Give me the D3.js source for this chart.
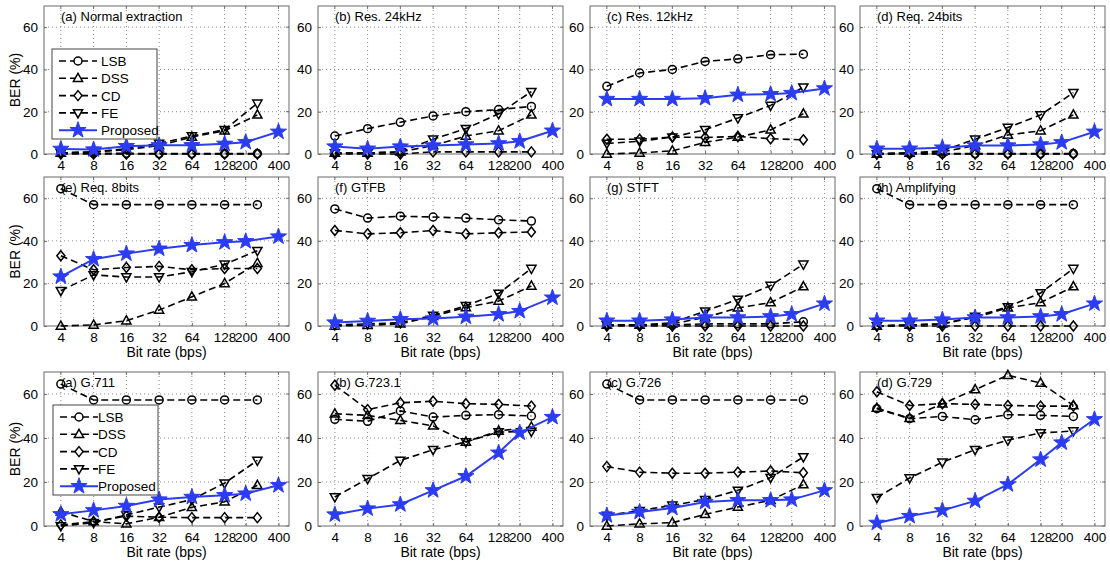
<!DOCTYPE html>
<html>
<head>
<meta charset="utf-8">
<script src="https://cdn.jsdelivr.net/npm/d3@7/dist/d3.min.js"></script>
<style>
  body { margin: 0; background: #fff; }
  text { font-family: "Liberation Sans", Arial, sans-serif; }
</style>
</head>
<body>
<div id="plot"></div>
<script>
// bit rates (bps) of the baseline methods and of the proposed one
const bitRates = [4, 8, 16, 32, 64, 128, 256];
const proposedRates = [4, 8, 16, 32, 64, 128, 200, 400];
const tickRates = [4, 8, 16, 32, 64, 128, 200, 400];
const berTicks = [0, 20, 40, 60];
const methods = ["LSB", "DSS", "CD", "FE", "Proposed"];

const titles = [
  "(a) Normal extraction", "(b) Res. 24kHz", "(c) Res. 12kHz", "(d) Req. 24bits",
  "(e) Req. 8bits", "(f) GTFB", "(g) STFT", "(h) Amplifying",
  "(a) G.711", "(b) G.723.1", "(c) G.726", "(d) G.729"
];

// BER (%) per panel, one row per panel
const lsb = [
  [0.5, 0.3, 0.3, 0.2, 0.2, 0.2, 0.2],
  [8.5, 12, 15, 18, 20, 21, 22.5],
  [32, 38.3, 40, 43.8, 45, 47, 47.2],
  [0.3, 0.2, 0.2, 0.2, 0.2, 0.2, 0.2],
  [64.5, 57, 57, 57, 57, 57, 57],
  [55, 50.7, 51.6, 51.2, 50.7, 49.9, 49.3],
  [0.5, 0.5, 0.5, 1, 1, 1, 2],
  [64.5, 57, 57, 57, 57, 57, 57],
  [64.5, 57.3, 57.3, 57.3, 57.3, 57.3, 57.3],
  [48.5, 47.6, 52.3, 49.5, 50.3, 50.6, 50],
  [64.5, 57.3, 57.3, 57.3, 57.3, 57.3, 57.3],
  [53.3, 48.8, 49.8, 48.3, 50.6, 50.3, 49.8]
];
const dss = [
  [0.5, 1, 2, 4, 8, 11, 18.5],
  [0.5, 0.5, 1, 4, 8.5, 11, 18.5],
  [0, 0.5, 1.5, 5.5, 8, 11.4, 19],
  [0, 0.5, 1, 4, 9, 11, 18.5],
  [0, 0.5, 2.5, 7.5, 13.7, 20, 29.5],
  [0, 0.3, 1, 4.6, 8.7, 11.7, 18.8],
  [0.5, 0.5, 1, 4, 8.5, 11, 18.5],
  [0, 0.5, 1, 4, 8.5, 11, 18.5],
  [6.5, 2, 1, 4, 8.5, 11, 18.5],
  [51, 50.3, 48, 45.5, 38.2, 43.2, 45],
  [0, 1, 1.5, 5.3, 8.6, 11.7, 18.8],
  [53.6, 49, 55.6, 62, 68.5, 65, 54.8]
];
const cd = [
  [0, 0, 0, 0, 0, 0, 0],
  [0, 0, 0, 1, 1, 1, 1],
  [7, 7, 8, 7.8, 8.3, 7.2, 6.7],
  [0, 0, 0, 0, 0, 0, 0],
  [33, 26.4, 27.5, 28, 26.4, 27, 27],
  [44.9, 43.3, 43.8, 44.9, 43.3, 43.8, 44.2],
  [0, 0, 0, 0, 0, 0, 0],
  [0, 0, 0, 0, 0, 0, 0],
  [0.5, 2, 4.5, 4, 3.8, 3.8, 3.8],
  [64, 52.9, 56, 56.7, 55.6, 55.3, 54.5],
  [27, 24.5, 24, 24, 24.5, 25, 24.2],
  [61, 54.8, 55.6, 55.3, 54.8, 54.5, 54.5]
];
const fe = [
  [0.5, 1, 2.5, 5, 8.5, 11.5, 24],
  [0.5, 0.5, 1, 7, 12, 19, 29.5],
  [5, 6, 8, 11.5, 17, 23, 31.6],
  [0, 0.5, 1.5, 7, 12.5, 18.5, 29],
  [16.6, 24, 23, 23, 25.5, 29, 35.4],
  [0.5, 1, 1.5, 5, 9.5, 15.3, 27],
  [0.5, 0.5, 1.5, 7, 12.5, 19, 29],
  [0, 0.5, 1, 4.5, 9, 15.5, 27],
  [0, 1.5, 5, 8.6, 12, 19.5, 29.8],
  [13.2, 21.5, 29.8, 34.7, 38.2, 42.7, 43],
  [4.8, 7, 9.4, 12, 16.2, 22, 31.4],
  [12.9, 21.8, 29, 34.7, 39, 42.3, 43.2]
];
const proposed = [
  [2.4, 2.1, 3.7, 4.1, 4.1, 4.8, 5.6, 10.5],
  [3.5, 2.5, 3.5, 4, 4.5, 5, 6, 11],
  [26, 26, 26, 26.4, 28, 28.3, 28.8, 31],
  [2.5, 2.5, 3, 4, 4, 4.5, 5.5, 10.5],
  [23.2, 31.4, 34, 36.3, 38, 39.3, 39.8, 42],
  [1.6, 2.4, 3.2, 3.5, 4.3, 5.5, 7, 13.3],
  [2.5, 2.5, 3, 4, 4, 4.5, 5.5, 10.5],
  [2.5, 2.5, 3, 4, 4, 4.5, 5.5, 10.5],
  [5.3, 7.1, 9.1, 12, 13.2, 14, 14.7, 18.5],
  [5.2, 7.9, 9.8, 16.2, 22.6, 33.3, 42.4, 49.5],
  [4.8, 6.4, 8.2, 10.9, 11.7, 11.7, 12, 16.2],
  [1.4, 4.5, 7.1, 11.4, 18.9, 30.2, 37.9, 48.5]
];

// layout
const colLeft = [44, 318, 590, 860];
const rowTop = [6, 177, 372];
const rowBottom = [154, 326, 526];
const panelW = 245;
const blue = "#2b3cf2";
const frame = "#6a6a6a";

const svg = d3.select("#plot").append("svg")
  .attr("width", 1110).attr("height", 561);

function markerPath(kind) {
  if (kind === "LSB") return d3.symbol(d3.symbolCircle, 50)();
  if (kind === "DSS") return "M0,-5L4.6,3.2L-4.6,3.2Z";
  if (kind === "CD") return "M0,-5L4,0L0,5L-4,0Z";
  if (kind === "FE") return "M0,5L4.6,-3.2L-4.6,-3.2Z";
  // pentagram
  const pts = [];
  for (let i = 0; i < 10; i++) {
    const r = i % 2 === 0 ? 8.5 : 3.4;
    const a = -Math.PI / 2 + i * Math.PI / 5;
    pts.push([r * Math.cos(a), r * Math.sin(a)]);
  }
  return "M" + pts.map(p => p[0].toFixed(2) + "," + p[1].toFixed(2)).join("L") + "Z";
}

function drawPanel(idx) {
  const row = Math.floor(idx / 4), col = idx % 4;
  const left = colLeft[col], top = rowTop[row], bottom = rowBottom[row];

  const x = d3.scaleLog().base(2).domain([2.8, 500]).range([left, left + panelW]);
  const y = d3.scaleLinear().domain([0, 70]).range([bottom, top]);

  const g = svg.append("g").attr("class", "panel");

  // grid
  g.selectAll(".vgrid").data(tickRates).enter().append("line")
    .attr("x1", d => x(d)).attr("x2", d => x(d))
    .attr("y1", top).attr("y2", bottom)
    .attr("stroke", "#8a8a8a").attr("stroke-width", 1)
    .attr("stroke-dasharray", "1,3");
  g.selectAll(".hgrid").data(berTicks.slice(1)).enter().append("line")
    .attr("x1", left).attr("x2", left + panelW)
    .attr("y1", d => y(d)).attr("y2", d => y(d))
    .attr("stroke", "#8a8a8a").attr("stroke-width", 1)
    .attr("stroke-dasharray", "1,3");

  // axes (ticks inward) with D3 axes
  const xAxis = d3.axisBottom(x).tickValues(tickRates).tickFormat(d3.format("d"))
    .tickSizeInner(-3).tickSizeOuter(0).tickPadding(6);
  const xa = g.append("g").attr("transform", `translate(0,${bottom})`).call(xAxis);
  const yAxis = d3.axisLeft(y).tickValues(berTicks)
    .tickSizeInner(-3).tickSizeOuter(0).tickPadding(6);
  const ya = g.append("g").attr("transform", `translate(${left},0)`).call(yAxis);
  [xa, ya].forEach(a => {
    a.select(".domain").remove();
    a.selectAll("line").attr("stroke", frame);
    a.selectAll("text").attr("font-size", 13.5).attr("fill", "#000")
      .style("font-family", '"Liberation Sans", Arial, sans-serif');
  });
  // top / right tick marks
  g.selectAll(".ttick").data(tickRates).enter().append("line")
    .attr("x1", d => x(d)).attr("x2", d => x(d))
    .attr("y1", top).attr("y2", top + 3).attr("stroke", frame);
  g.selectAll(".rtick").data(berTicks).enter().append("line")
    .attr("x1", left + panelW - 3).attr("x2", left + panelW)
    .attr("y1", d => y(d)).attr("y2", d => y(d)).attr("stroke", frame);

  // frame
  g.append("rect").attr("x", left).attr("y", top)
    .attr("width", panelW).attr("height", bottom - top)
    .attr("fill", "none").attr("stroke", frame).attr("stroke-width", 1);

  // baseline series
  const series = [["LSB", lsb[idx]], ["DSS", dss[idx]], ["CD", cd[idx]], ["FE", fe[idx]]];
  const line = d3.line().x(d => x(d[0])).y(d => y(d[1]));
  series.forEach(([name, vals]) => {
    const pts = bitRates.map((r, i) => [r, vals[i]]);
    g.append("path").attr("d", line(pts))
      .attr("fill", "none").attr("stroke", "#000").attr("stroke-width", 1.6)
      .attr("stroke-dasharray", "7,4");
    g.selectAll(".m-" + name).data(pts).enter().append("path")
      .attr("d", markerPath(name))
      .attr("transform", d => `translate(${x(d[0])},${y(d[1])})`)
      .attr("fill", "none").attr("stroke", "#000").attr("stroke-width", 1.5);
  });

  // proposed
  const pp = proposedRates.map((r, i) => [r, proposed[idx][i]]);
  g.append("path").attr("d", line(pp))
    .attr("fill", "none").attr("stroke", blue).attr("stroke-width", 2);
  g.selectAll(".m-prop").data(pp).enter().append("path")
    .attr("d", markerPath("Proposed"))
    .attr("transform", d => `translate(${x(d[0])},${y(d[1])})`)
    .attr("fill", blue).attr("stroke", blue).attr("stroke-width", 1);

  // title
  g.append("text").attr("x", left + 17).attr("y", top + 15)
    .attr("font-size", 13).attr("fill", "#000").text(titles[idx]);

  // axis labels
  if (col === 0) {
    g.append("text")
      .attr("transform", `translate(20,${(top + bottom) / 2}) rotate(-90)`)
      .attr("text-anchor", "middle").attr("font-size", 14).text("BER (%)");
  }
  if (row > 0) {
    g.append("text").attr("x", left + panelW / 2).attr("y", bottom + 31)
      .attr("text-anchor", "middle").attr("font-size", 14).text("Bit rate (bps)");
  }
}

function drawLegend(bx, by, textOff) {
  const g = svg.append("g");
  g.append("rect").attr("x", bx).attr("y", by).attr("width", 105).attr("height", 90)
    .attr("fill", "#fff").attr("stroke", "#444").attr("stroke-width", 1);
  methods.forEach((m, i) => {
    const yy = by + 12 + i * 17.3;
    const isProp = m === "Proposed";
    g.append("line").attr("x1", bx + 7).attr("x2", bx + 45)
      .attr("y1", yy).attr("y2", yy)
      .attr("stroke", isProp ? blue : "#000").attr("stroke-width", isProp ? 2 : 1.6)
      .attr("stroke-dasharray", isProp ? null : "7,4");
    g.append("path").attr("d", markerPath(m))
      .attr("transform", `translate(${bx + 26},${yy})`)
      .attr("fill", isProp ? blue : "#fff").attr("stroke", isProp ? blue : "#000")
      .attr("stroke-width", isProp ? 1 : 1.5);
    g.append("text").attr("x", bx + textOff).attr("y", yy + 5)
      .attr("font-size", 13.5).text(m);
  });
}

for (let i = 0; i < 12; i++) drawPanel(i);
drawLegend(52, 49, 49);
drawLegend(53, 405, 45);
</script>
</body>
</html>
